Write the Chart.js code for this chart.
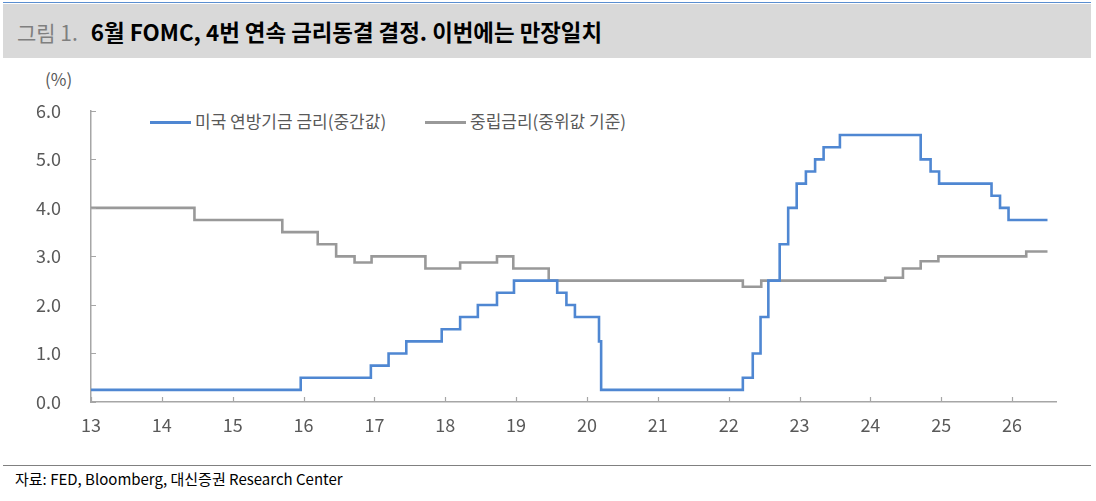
<!DOCTYPE html>
<html>
<head>
<meta charset="utf-8">
<script src="https://cdn.jsdelivr.net/npm/chart.js@4/dist/chart.umd.min.js"></script>
<style>
  html, body { margin:0; padding:0; background:#fff; }
  body { width:1096px; height:501px; position:relative; overflow:hidden; font-family:"Noto Sans CJK KR", "Noto Sans", sans-serif; }
  #topline { position:absolute; left:3px; top:2px; width:1088px; height:1px; background:#5a8ed0; }
  #band { position:absolute; left:3px; top:4px; width:1088px; height:54px; background:#d9d9d9; }
  #title { position:absolute; left:17px; top:4px; height:54px; line-height:54px; white-space:nowrap; }
  #title .fig { color:#7f7f7f; font-weight:normal; font-size:21px; }
  #title .main { color:#000; font-weight:bold; margin-left:13px; font-size:22.4px; }
  #unit { position:absolute; left:45px; top:66px; font-size:17px; color:#595959; }
  .leg { position:absolute; top:110px; height:22px; line-height:22px; font-size:17px; color:#595959; white-space:nowrap; }
  .leg i { display:inline-block; width:41px; height:2.5px; vertical-align:middle; margin-right:4px; position:relative; top:-1px; }
  #chartbox { position:absolute; left:0; top:78px; width:1096px; height:362px; }
  #srcline { position:absolute; left:3px; top:465px; width:1088px; height:1px; background:#808080; }
  #src { position:absolute; left:15px; top:468px; font-size:15px; color:#000; white-space:nowrap; }
</style>
</head>
<body>
<div id="topline"></div>
<div id="band"></div>
<div id="title"><span class="fig">그림 1.</span><span class="main">6월 FOMC, 4번 연속 금리동결 결정. 이번에는 만장일치</span></div>
<div id="unit">(%)</div>
<div class="leg" style="left:150px"><i style="background:#4f87d2"></i>미국 연방기금 금리(중간값)</div>
<div class="leg" style="left:425px"><i style="background:#999999"></i>중립금리(중위값 기준)</div>
<div id="chartbox"><canvas id="c"></canvas></div>
<div id="srcline"></div>
<div id="src">자료: FED, Bloomberg, 대신증권 Research Center</div>
<script>
// Year axis: 13 = Jan 2013, fractional part = fraction of year
const yearTicks = [13,14,15,16,17,18,19,20,21,22,23,24,25,26];
const yTicks = [0,1,2,3,4,5,6];

// US federal funds rate target (midpoint) - change dates and new levels
const fedDates = [13.0,15.96,16.95,17.2,17.45,17.95,18.21,18.46,18.73,18.97,19.58,19.71,19.83,20.17,20.2,22.2,22.34,22.45,22.56,22.72,22.84,22.96,23.09,23.22,23.34,23.57,24.71,24.85,24.97,25.71,25.83,25.95,26.5];
const fedRates = [0.25,0.5,0.75,1.0,1.25,1.5,1.75,2.0,2.25,2.5,2.25,2.0,1.75,1.25,0.25,0.5,1.0,1.75,2.5,3.25,4.0,4.5,4.75,5.0,5.25,5.5,5.0,4.75,4.5,4.25,4.0,3.75,3.75];

// Neutral rate (longer-run median) - change dates and new levels
const neutralDates = [13.0,14.46,15.7,16.2,16.46,16.72,16.96,17.72,18.21,18.73,18.96,19.46,22.2,22.46,24.21,24.46,24.71,24.96,26.2,26.5];
const neutralRates = [4.0,3.75,3.5,3.25,3.0,2.875,3.0,2.75,2.875,3.0,2.75,2.5,2.375,2.5,2.56,2.75,2.9,3.0,3.1,3.1];

const toPts = (xs, ys) => xs.map((x, i) => ({x: x, y: ys[i]}));

const axisColor = '#a6a6a6';
const innerTicks = {
  id: 'innerTicks',
  afterDatasetsDraw(chart) {
    const ctx = chart.ctx, xs = chart.scales.x, ys = chart.scales.y;
    ctx.save();
    ctx.strokeStyle = axisColor;
    ctx.lineWidth = 1.2;
    ctx.beginPath();
    yearTicks.forEach(v => { const p = Math.round(xs.getPixelForValue(v)) + 0.5; ctx.moveTo(p, ys.bottom); ctx.lineTo(p, ys.bottom - 5); });
    yTicks.forEach(v => { const p = Math.round(ys.getPixelForValue(v)) + 0.5; ctx.moveTo(xs.left, p); ctx.lineTo(xs.left + 5, p); });
    ctx.stroke();
    ctx.restore();
  }
};

new Chart(document.getElementById('c'), {
  type: 'line',
  data: {
    datasets: [
      { label: '미국 연방기금 금리(중간값)', data: toPts(fedDates, fedRates), borderColor: '#4f87d2', borderWidth: 2.6, pointRadius: 0, stepped: 'before', fill: false },
      { label: '중립금리(중위값 기준)', data: toPts(neutralDates, neutralRates), borderColor: '#999999', borderWidth: 2.6, pointRadius: 0, stepped: 'before', fill: false }
    ]
  },
  options: {
    responsive: true,
    maintainAspectRatio: false,
    animation: false,
    layout: { padding: { top: 9, right: 40, left: 0, bottom: 0 } },
    plugins: { legend: { display: false }, tooltip: { enabled: false } },
    scales: {
      x: {
        type: 'linear', min: 13, max: 26.62,
        afterBuildTicks: s => { s.ticks = yearTicks.map(v => ({value: v})); },
        afterFit: s => { s.height = 38; },
        ticks: { color: '#595959', font: { family: '"Noto Sans CJK KR"', size: 18 }, padding: 4, callback: v => String(v), maxRotation: 0, autoSkip: false },
        grid: { display: false },
        border: { display: true, color: axisColor, width: 1.5 }
      },
      y: {
        min: 0, max: 6,
        afterBuildTicks: s => { s.ticks = yTicks.map(v => ({value: v})); },
        afterFit: s => { s.width = 91; },
        ticks: { color: '#595959', font: { family: '"Noto Sans CJK KR"', size: 18 }, padding: 22, callback: v => Number(v).toFixed(1) },
        grid: { display: false },
        border: { display: true, color: axisColor, width: 1.5 }
      }
    }
  },
  plugins: [innerTicks]
});
</script>
</body>
</html>
